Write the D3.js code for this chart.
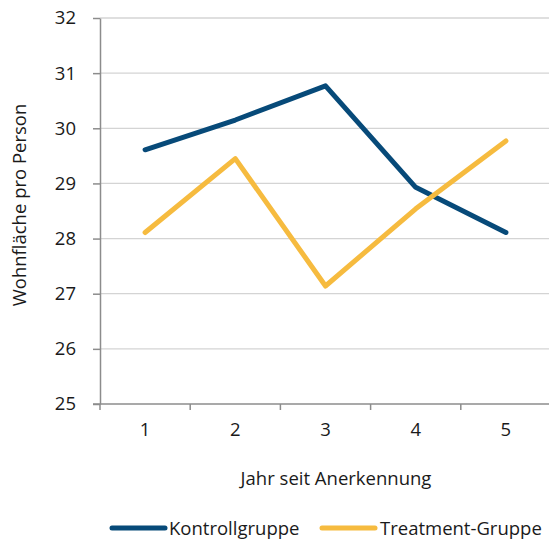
<!DOCTYPE html>
<html><head><meta charset="utf-8">
<script src="https://cdnjs.cloudflare.com/ajax/libs/d3/7.8.5/d3.min.js"></script>
<style>body{margin:0;background:#fff}svg{display:block}text{font-family:"Open Sans","Noto Sans",sans-serif;fill:#1a1a1a}</style>
</head><body><svg id="c" width="549" height="543"></svg>
<script>
const years = [1,2,3,4,5];
const yTicks = [25,26,27,28,29,30,31,32];
const kontroll = [29.61, 30.15, 30.77, 28.93, 28.11];
const treatment = [28.11, 29.45, 27.14, 28.54, 29.77];
const seriesNames = ["Kontrollgruppe","Treatment-Gruppe"];
const colors = ["#074a79","#f6bb3f"];
const FS = 18.5;

const svg = d3.select("#c");
const m = {l:100, r:549, t:18, b:404};
const x = d3.scaleBand().domain(years).range([m.l, 551]);
const y = d3.scaleLinear().domain([25,32]).range([m.b, m.t]);

svg.append("g").selectAll("line").data(yTicks.slice(1)).join("line")
  .attr("x1", m.l).attr("x2", m.r).attr("y1", d=>y(d)).attr("y2", d=>y(d))
  .attr("stroke","#d4d4d4").attr("stroke-width",1.3);

const ya = svg.append("g").attr("transform",`translate(${m.l},0)`)
  .call(d3.axisLeft(y).tickValues(yTicks).tickFormat(d3.format("d")).tickSize(7).tickPadding(17).tickSizeOuter(0));
const xa = svg.append("g").attr("transform",`translate(0,${m.b})`)
  .call(d3.axisBottom(x).tickSize(0).tickPadding(19).tickSizeOuter(0));
xa.selectAll(".tick line").remove();
xa.append("g").selectAll("line").data(d3.range(years.length)).join("line")
  .attr("x1", i=>x(years[i])).attr("x2", i=>x(years[i])).attr("y1",0).attr("y2",6)
  .attr("stroke","#8c8c8c").attr("stroke-width",1.5);
xa.select(".domain").attr("d", `M${m.l-7},0H${m.r}`);
[ya,xa].forEach(a=>{
  a.selectAll(".domain").attr("stroke","#8c8c8c").attr("stroke-width",1.5);
  a.selectAll(".tick line").attr("stroke","#8c8c8c").attr("stroke-width",1.5);
  a.selectAll("text").attr("font-size",FS).attr("fill","#1a1a1a").attr("font-family","'Open Sans', sans-serif");
});

const line = d3.line().x((d,i)=>x(years[i])+x.bandwidth()/2).y(d=>y(d));
[kontroll, treatment].forEach((s,k)=>{
  svg.append("path").attr("d", line(s)).attr("fill","none")
    .attr("stroke", colors[k]).attr("stroke-width",5)
    .attr("stroke-linecap","round").attr("stroke-linejoin","round");
});

svg.append("text").attr("x",336).attr("y",485).attr("text-anchor","middle")
  .attr("font-size",FS).text("Jahr seit Anerkennung");
svg.append("text").attr("transform","translate(26,205) rotate(-90)").attr("text-anchor","middle")
  .attr("font-size",FS).text("Wohnfläche pro Person");

const lg = [{x:112, tx:169}, {x:322, tx:380}];
seriesNames.forEach((n,k)=>{
  svg.append("line").attr("x1",lg[k].x).attr("x2",lg[k].x+53).attr("y1",528).attr("y2",528)
    .attr("stroke",colors[k]).attr("stroke-width",5).attr("stroke-linecap","round");
  svg.append("text").attr("x",lg[k].tx).attr("y",535).attr("font-size",FS).text(n);
});
</script></body></html>
